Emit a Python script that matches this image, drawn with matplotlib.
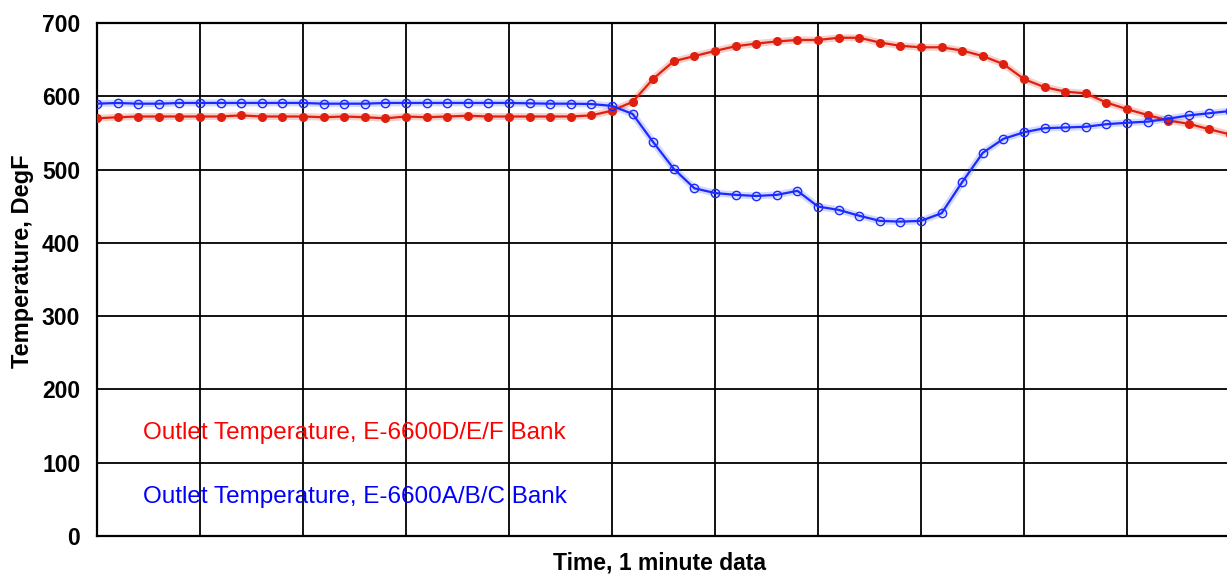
import numpy as np
import matplotlib
matplotlib.use("Agg")
import matplotlib.pyplot as plt

# one reading per minute
minutes = np.arange(56)

outlet_def = [570, 571.5, 572.5, 572.5, 572.5, 572.5, 572.5, 574, 572.5, 572.5,
              572.5, 571.5, 572.5, 571.5, 570, 572.5, 571.5, 572.5, 573.5, 572.5,
              572.5, 572.5, 572.5, 572.5, 574, 580.5, 592.5, 624, 648, 655,
              662, 668.5, 672, 675, 677, 677, 680, 680, 673.5, 669,
              667, 667, 662.5, 655, 644, 623.5, 612.5, 606.5, 604, 591.5,
              582.5, 574.5, 567, 562.5, 555, 548]

outlet_abc = [590, 591, 590, 590, 591, 591, 591, 591, 591, 591,
              591, 590, 590, 590, 591, 591, 591, 591, 591, 591,
              591, 590.5, 590, 590, 589.5, 587, 576, 537.5, 501, 474.5,
              468, 465.5, 464, 465.5, 471, 449.5, 445, 437, 430, 429,
              430, 440.5, 483, 523, 542, 551, 556.5, 557.5, 558.5, 562,
              564, 565.5, 569.5, 574, 577, 580]

label_def = "Outlet Temperature, E-6600D/E/F Bank"
label_abc = "Outlet Temperature, E-6600A/B/C Bank"

fontSize = 17.5
plt.rcParams['font.family'] = ['Liberation Sans', 'DejaVu Sans']
plt.rcParams['font.size'] = fontSize

fig = plt.figure(figsize=(12.27, 5.78), dpi=100)
ax = fig.add_axes([0.079, 0.073, 0.921, 0.887])

red = '#E0200F'
blue = '#1A2BFF'

# soft halo behind each trace
ax.plot(minutes, outlet_def, color=red, alpha=0.22, linewidth=5, zorder=3)
ax.plot(minutes, outlet_abc, color=blue, alpha=0.18, linewidth=5, zorder=3)

ax.plot(minutes, outlet_def, color=red, linewidth=1.6, marker='o', markersize=5.5,
        markerfacecolor=red, markeredgecolor=red, zorder=4)
ax.plot(minutes, outlet_abc, color=blue, linewidth=1.6, marker='o', markersize=6,
        markerfacecolor='none', markeredgecolor=blue, markeredgewidth=1, zorder=4)

ax.set_xlim(0, 54.85)
ax.set_ylim(0, 700)
ax.set_yticks(np.arange(0, 701, 100))
ax.set_xticks(np.arange(0, 55, 5))
ax.set_xticklabels([])
ax.tick_params(length=0, pad=12, labelsize=16.5)
for lab in ax.get_yticklabels():
    lab.set_fontweight('bold')

ax.grid(True, color='black', linewidth=1.3)
ax.set_axisbelow(True)
for side in ['left', 'bottom', 'top']:
    ax.spines[side].set_color('black')
    ax.spines[side].set_linewidth(1.6)
ax.spines['right'].set_visible(False)

ax.set_ylabel("Temperature, DegF", fontweight='bold', fontsize=17, va='center')
ax.yaxis.set_label_coords(-0.066, 0.536)
ax.set_xlabel("Time, 1 minute data", fontweight='bold', fontsize=16.5, va='center')
ax.xaxis.set_label_coords(0.498, -0.053)

ax.text(2.25, 140, label_def, color='#FF0000', fontsize=fontSize, va='center', zorder=5)
ax.text(2.25, 53, label_abc, color='#0000FF', fontsize=fontSize, va='center', zorder=5)

plt.savefig("out.png", dpi=100)
